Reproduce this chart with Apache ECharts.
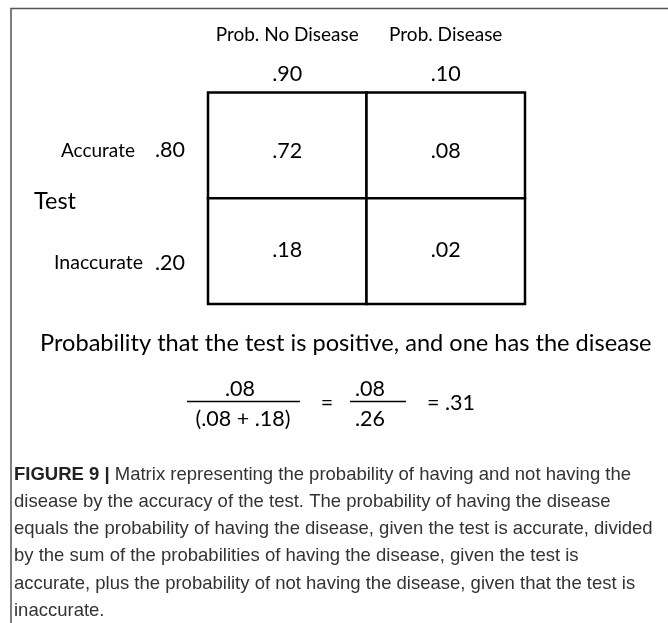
<!DOCTYPE html>
<html><head><meta charset="utf-8">
<script src="https://cdn.jsdelivr.net/npm/echarts@6/dist/echarts.min.js"></script>
<style>html,body{margin:0;padding:0;background:#fff}#c{width:668px;height:623px}</style>
</head><body><div id="c"></div>
<script>
// ---- data ----
const colLabels = ['Prob. No Disease', 'Prob. Disease'];
const colProbs = [0.90, 0.10];
const rowLabels = ['Accurate', 'Inaccurate'];
const rowProbs = [0.80, 0.20];
const cellValues = [[0.72, 0.08], [0.18, 0.02]]; // [row][col]
const resultValue = 0.31;
const rowTitle = 'Test';
const statement = 'Probability that the test is positive, and one has the disease';
const captionBold = 'FIGURE 9 |';
const captionLines = [
  'Matrix representing the probability of having and not having the',
  'disease by the accuracy of the test. The probability of having the disease',
  'equals the probability of having the disease, given the test is accurate, divided',
  'by the sum of the probabilities of having the disease, given the test is',
  'accurate, plus the probability of not having the disease, given that the test is',
  'inaccurate.'
];

function fmt(v) { return v.toFixed(2).replace(/^0/, ''); }

const cellData = [];
cellValues.forEach((row, r) => row.forEach((v, c) => cellData.push([c, r, v])));

const num = cellValues[0][1];   // .08 disease & accurate
const other = cellValues[1][0]; // .18 no disease & inaccurate
const sum = num + other;

const F = 'Lato';
const chart = echarts.init(document.getElementById('c'), null, { renderer: 'canvas' });

const captionText = '{b|' + captionBold + '}{r| ' + captionLines[0] + '}\n' +
  captionLines.slice(1).map(l => '{r|' + l + '}').join('\n');

chart.setOption({
  animation: false,
  backgroundColor: '#fff',
  grid: { left: 208, right: 143, top: 92.5, bottom: 319, containLabel: false },
  xAxis: {
    type: 'category', data: colLabels, position: 'top',
    axisLine: { show: false }, axisTick: { show: false }, splitLine: { show: false },
    axisLabel: {
      margin: 3, interval: 0,
      formatter: (v, i) => '{h|' + v + '}\n{v|' + fmt(colProbs[i]) + '}',
      rich: {
        h: { fontFamily: F, fontSize: 19, lineHeight: 50, color: '#000' },
        v: { fontFamily: F, fontSize: 21.5, lineHeight: 30, color: '#000' }
      }
    }
  },
  yAxis: {
    type: 'category', data: rowLabels, inverse: true,
    axisLine: { show: false }, axisTick: { show: false }, splitLine: { show: false },
    axisLabel: {
      margin: 23, interval: 0,
      formatter: (v, i) => i === 0
        ? '{n0|' + v + '}{p0|' + fmt(rowProbs[i]) + '}'
        : '{n1|' + v + '}{p1|' + fmt(rowProbs[i]) + '}',
      rich: {
        n0: { fontFamily: F, fontSize: 19, color: '#000', padding: [10, 20, 0, 0], lineHeight: 24 },
        p0: { fontFamily: F, fontSize: 21.5, color: '#000', padding: [10, 0, 0, 0], lineHeight: 24 },
        n1: { fontFamily: F, fontSize: 19.5, color: '#000', padding: [23, 12, 0, 0], lineHeight: 24 },
        p1: { fontFamily: F, fontSize: 21.5, color: '#000', padding: [23, 0, 0, 0], lineHeight: 24 }
      }
    }
  },
  series: [{
    type: 'custom',
    data: cellData,
    renderItem: (params, api) => {
      const c = api.coord([api.value(0), api.value(1)]);
      const s = api.size([1, 1]);
      const row = api.value(1);
      return {
        type: 'group',
        children: [
          { type: 'rect', shape: { x: c[0] - s[0] / 2, y: c[1] - s[1] / 2, width: s[0], height: s[1] },
            style: { fill: '#fff', stroke: '#000', lineWidth: 2.5 } },
          { type: 'text', x: c[0], y: c[1] + (row === 0 ? 6 : -1),
            style: { text: fmt(api.value(2)), fontFamily: F, fontSize: 21.5, fill: '#000', align: 'center', verticalAlign: 'middle' } }
        ]
      };
    }
  }],
  graphic: [
    { type: 'polyline', shape: { points: [[11, 623], [11, 8.5], [668, 8.5]] }, style: { stroke: '#555', lineWidth: 1.5, fill: null } },
    { type: 'text', left: 34, top: 189, style: { text: rowTitle, fontFamily: F, fontSize: 23.5, fill: '#000' } },
    { type: 'text', left: 40, top: 331, style: { text: statement, fontFamily: F, fontSize: 23.6, fill: '#000' } },
    // fraction 1
    { type: 'text', x: 240, y: 389, style: { text: fmt(num), fontFamily: F, fontSize: 21.5, fill: '#000', align: 'center', verticalAlign: 'middle' } },
    { type: 'line', shape: { x1: 187, y1: 401.5, x2: 300, y2: 401.5 }, style: { stroke: '#000', lineWidth: 1.5 } },
    { type: 'text', x: 243, y: 419, style: { text: '(' + fmt(num) + ' + ' + fmt(other) + ')', fontFamily: F, fontSize: 21.5, fill: '#000', align: 'center', verticalAlign: 'middle' } },
    { type: 'text', x: 327, y: 403, style: { text: '=', fontFamily: F, fontSize: 21.5, fill: '#000', align: 'center', verticalAlign: 'middle' } },
    // fraction 2
    { type: 'text', x: 370, y: 389, style: { text: fmt(num), fontFamily: F, fontSize: 21.5, fill: '#000', align: 'center', verticalAlign: 'middle' } },
    { type: 'line', shape: { x1: 350, y1: 401.5, x2: 406, y2: 401.5 }, style: { stroke: '#000', lineWidth: 1.5 } },
    { type: 'text', x: 370, y: 419, style: { text: fmt(sum), fontFamily: F, fontSize: 21.5, fill: '#000', align: 'center', verticalAlign: 'middle' } },
    { type: 'text', x: 427, y: 403, style: { text: '= ' + fmt(resultValue), fontFamily: F, fontSize: 21.5, fill: '#000', align: 'left', verticalAlign: 'middle' } },
    // caption
    { type: 'text', left: 14, top: 465, style: {
        text: captionText,
        rich: {
          b: { fontFamily: 'Liberation Sans', fontSize: 18.5, fontWeight: 'bold', fill: '#222', lineHeight: 27.3 },
          r: { fontFamily: 'Liberation Sans', fontSize: 18.5, fill: '#333', lineHeight: 27.3 }
        } } }
  ]
});
</script>
</body></html>
